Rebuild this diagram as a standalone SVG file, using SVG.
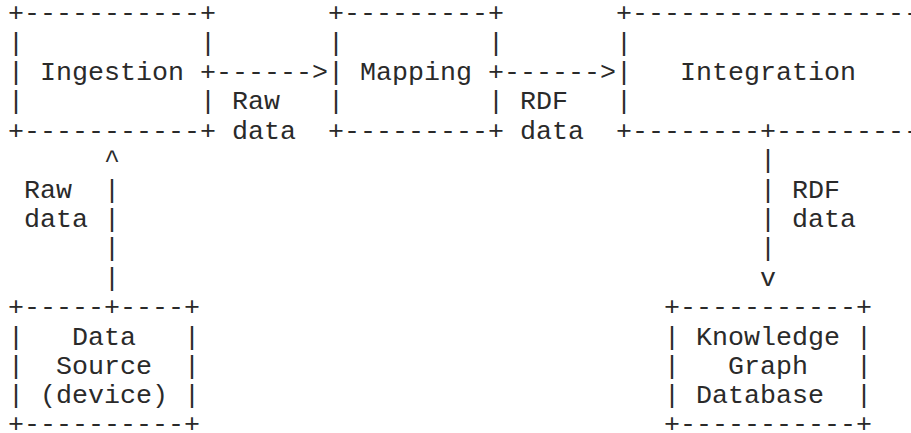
<svg xmlns="http://www.w3.org/2000/svg" width="911" height="433" viewBox="0 0 911 433" xml:space="preserve">
  <style>
    /* character grid: 16px per column (0.6em mono at 26.667px), 29.4px per row */
    text { font-family: "Courier New", "Nimbus Mono PS", "FreeMono", "Liberation Mono", monospace; font-size: 26.667px; fill: #2a2a2a; white-space: pre; }
  </style>
  <rect x="0" y="0" width="911" height="433" fill="#ffffff"/>

  <!-- Ingestion box: columns 0-12, rows 0-4 -->
  <g id="ingestion">
    <text x="8" y="21.2">+-----------+</text>
    <text x="8" y="50.6">|           |</text>
    <text x="8" y="80.0">| Ingestion +</text>
    <text x="8" y="109.4">|           |</text>
    <text x="8" y="138.8">+-----------+</text>
  </g>

  <!-- Mapping box: columns 20-30 -->
  <g id="mapping">
    <text x="328" y="21.2">+---------+</text>
    <text x="328" y="50.6">|         |</text>
    <text x="328" y="80.0">| Mapping +</text>
    <text x="328" y="109.4">|         |</text>
    <text x="328" y="138.8">+---------+</text>
  </g>

  <!-- Integration box: starts at column 38, runs past the right edge -->
  <g id="integration">
    <text x="616" y="21.2">+------------------</text>
    <text x="616" y="50.6">|</text>
    <text x="616" y="80.0">|   Integration</text>
    <text x="616" y="109.4">|</text>
    <text x="616" y="138.8">+--------+---------</text>
  </g>

  <!-- Data Source box: columns 0-11, rows 10-14 -->
  <g id="data-source">
    <text x="8" y="315.2">+-----+----+</text>
    <text x="8" y="344.6">|   Data   |</text>
    <text x="8" y="374.0">|  Source  |</text>
    <text x="8" y="403.4">| (device) |</text>
    <text x="8" y="432.4">+----------+</text>
  </g>

  <!-- Knowledge Graph Database box: columns 41-53 -->
  <g id="knowledge-graph-db">
    <text x="664" y="315.2">+-----------+</text>
    <text x="664" y="344.6">| Knowledge |</text>
    <text x="664" y="374.0">|   Graph   |</text>
    <text x="664" y="403.4">| Database  |</text>
    <text x="664" y="432.4">+-----------+</text>
  </g>

  <!-- connectors and their labels -->
  <g id="connectors">
    <!-- Ingestion -> Mapping -->
    <text x="216" y="80.0">------&gt;</text>
    <text x="232" y="109.4">Raw</text>
    <text x="232" y="138.8">data</text>

    <!-- Mapping -> Integration -->
    <text x="504" y="80.0">------&gt;</text>
    <text x="520" y="109.4">RDF</text>
    <text x="520" y="138.8">data</text>

    <!-- Data Source -> Ingestion (column 6) -->
    <text x="104" y="168.2">^</text>
    <text x="104" y="197.6">|</text>
    <text x="104" y="227.0">|</text>
    <text x="104" y="256.4">|</text>
    <text x="104" y="285.8">|</text>
    <text x="24" y="197.6">Raw</text>
    <text x="24" y="227.0">data</text>

    <!-- Integration -> Knowledge Graph Database (column 47) -->
    <text x="760" y="168.2">|</text>
    <text x="760" y="197.6">|</text>
    <text x="760" y="227.0">|</text>
    <text x="760" y="256.4">|</text>
    <text x="760" y="285.8">v</text>
    <text x="792" y="197.6">RDF</text>
    <text x="792" y="227.0">data</text>
  </g>
</svg>
